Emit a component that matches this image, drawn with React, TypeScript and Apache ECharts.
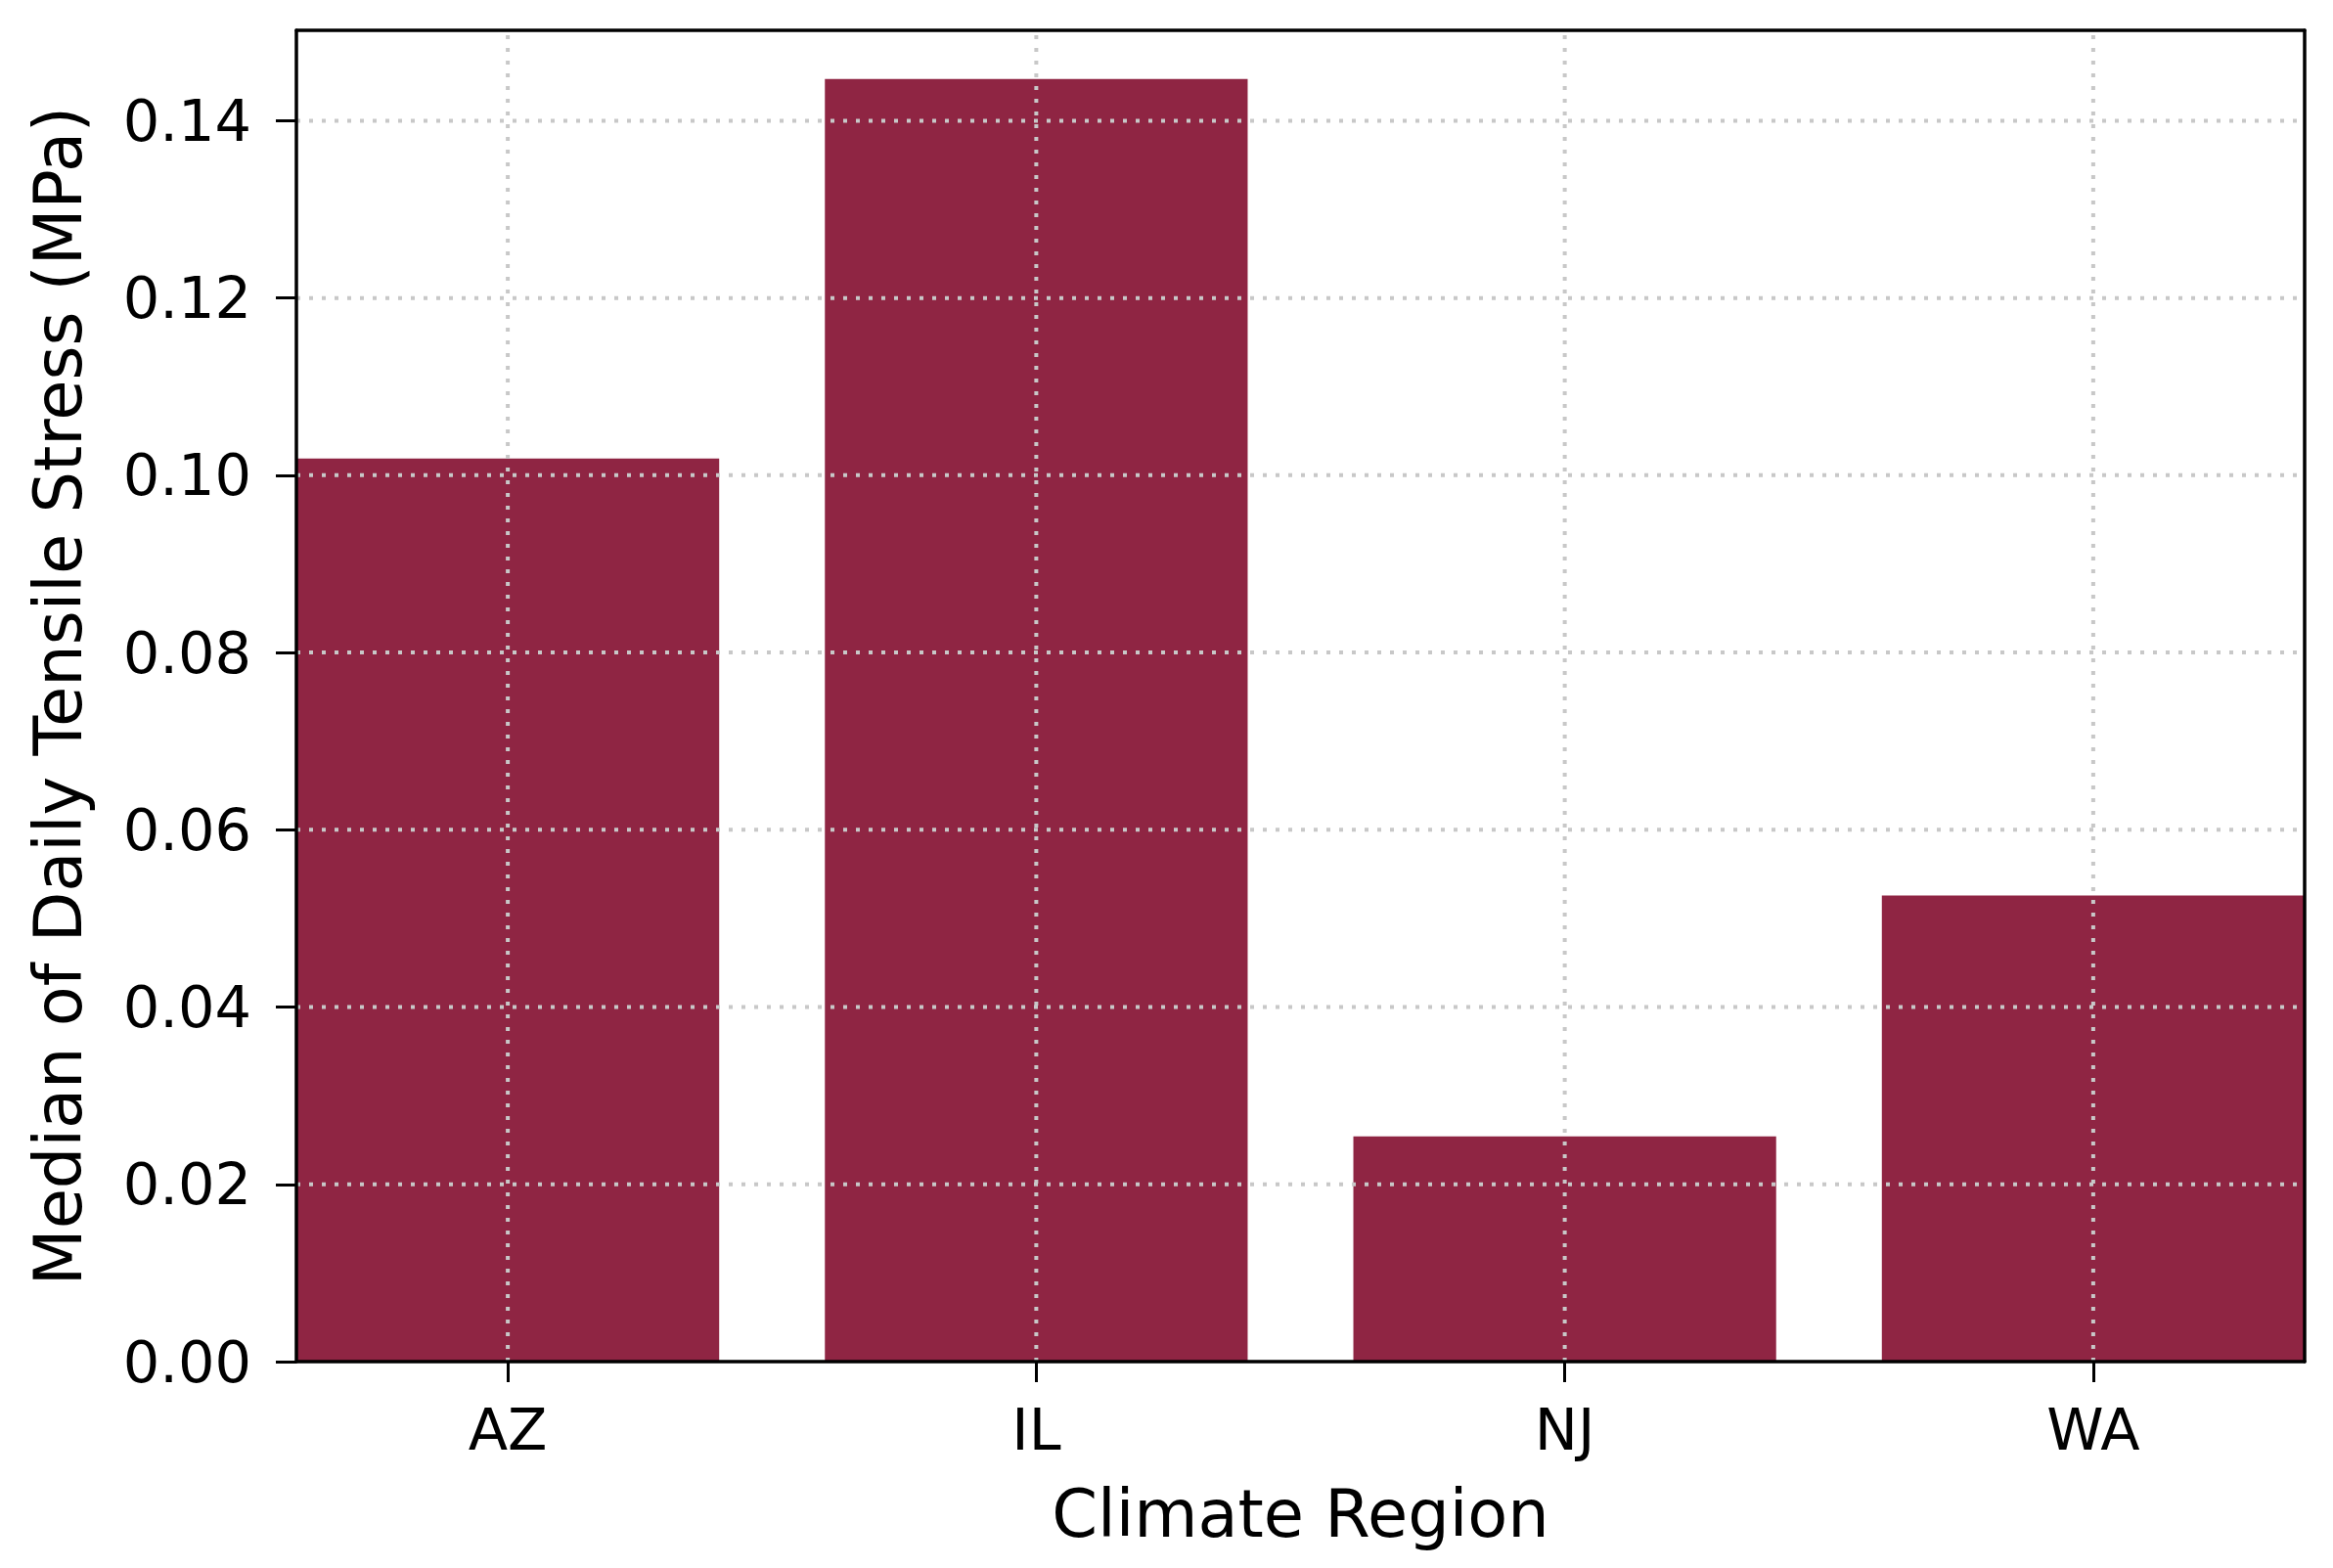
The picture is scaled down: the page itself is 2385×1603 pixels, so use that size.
import React, { useEffect, useRef } from "react";
import * as echarts from "echarts";

const categories = ["AZ", "IL", "NJ", "WA"];
const values = [0.1019, 0.1447, 0.0254, 0.0526];
const yTicks = [0, 0.02, 0.04, 0.06, 0.08, 0.1, 0.12, 0.14];
const xTicks = [0, 1, 2, 3];

const FONT = "DejaVu Sans";
const BAR_COLOR = "#8F2543";
const GRID_COLOR = "#c8c8c8";

export default function App() {
  const ref = useRef<HTMLDivElement>(null);
  useEffect(() => {
    document.body.style.margin = "0";
    const chart = echarts.init(ref.current!, null, { renderer: "svg" });
    const gridLeft = 303;
    const gridRight = 29;
    const plotW = 2385 - gridLeft - gridRight;
    const xMin = -0.4;
    const xMax = 3.4;
    const yMin = 0;
    const yMax = 0.1502;
    const barW = (plotW / (xMax - xMin)) * 0.8;
    const dotted = { color: GRID_COLOR, width: 4, type: [4, 9] as any, opacity: 1 };
    const frame = { color: "#000", width: 3.5 };

    const gridSeries = [
      ...yTicks
        .filter((v) => v > 0)
        .map((v) => ({
          type: "line",
          silent: true,
          symbol: "none",
          z: 5,
          zlevel: 1,
          lineStyle: dotted,
          data: [
            [xMin, v],
            [xMax, v],
          ],
        })),
      ...xTicks.map((v) => ({
        type: "line",
        silent: true,
        symbol: "none",
        z: 5,
        zlevel: 1,
        lineStyle: dotted,
        data: [
          [v, yMin],
          [v, yMax],
        ],
      })),
    ];

    chart.setOption({
      animation: false,
      backgroundColor: "#ffffff",
      grid: { left: gridLeft, right: gridRight, top: 31, bottom: 211, containLabel: false },
      xAxis: [
        {
          type: "value",
          min: xMin,
          max: xMax,
          position: "bottom",
          z: 10,
          zlevel: 2,
          name: "Climate Region",
          nameLocation: "middle",
          nameGap: 122,
          nameTextStyle: { fontFamily: FONT, fontSize: 67, color: "#000" },
          axisLine: { show: true, onZero: false, lineStyle: frame },
          axisTick: { show: true, length: 21, lineStyle: { color: "#000", width: 3 }, customValues: xTicks },
          axisLabel: {
            show: true,
            customValues: xTicks,
            margin: 40,
            fontFamily: FONT,
            fontSize: 59,
            color: "#000",
            formatter: (v: number) => categories[Math.round(v)] ?? "",
          },
          splitLine: { show: false },
        },
        {
          type: "value",
          min: xMin,
          max: xMax,
          position: "top",
          z: 10,
          zlevel: 2,
          axisLine: { show: true, onZero: false, lineStyle: frame },
          axisTick: { show: false },
          axisLabel: { show: false },
          splitLine: { show: false },
        },
      ],
      yAxis: [
        {
          type: "value",
          min: yMin,
          max: yMax,
          position: "left",
          z: 10,
          zlevel: 2,
          name: "Median of Daily Tensile Stress (MPa)",
          nameLocation: "middle",
          nameGap: 210,
          nameTextStyle: { fontFamily: FONT, fontSize: 67, color: "#000" },
          axisLine: { show: true, onZero: false, lineStyle: frame },
          axisTick: { show: true, length: 21, lineStyle: { color: "#000", width: 3 }, customValues: yTicks },
          axisLabel: {
            show: true,
            customValues: yTicks,
            margin: 46,
            fontFamily: FONT,
            fontSize: 59,
            color: "#000",
            formatter: (v: number) => v.toFixed(2),
          },
          splitLine: { show: false },
        },
        {
          type: "value",
          min: yMin,
          max: yMax,
          position: "right",
          z: 10,
          zlevel: 2,
          axisLine: { show: true, onZero: false, lineStyle: frame },
          axisTick: { show: false },
          axisLabel: { show: false },
          splitLine: { show: false },
        },
      ],
      series: [
        {
          type: "bar",
          xAxisIndex: 0,
          yAxisIndex: 0,
          barWidth: barW,
          itemStyle: { color: BAR_COLOR },
          data: values.map((v, i) => [xTicks[i], v]),
          z: 1,
          zlevel: 0,
        },
        ...gridSeries,
      ],
    });
    return () => chart.dispose();
  }, []);
  return <div ref={ref} style={{ width: 2385, height: 1603 }} />;
}
